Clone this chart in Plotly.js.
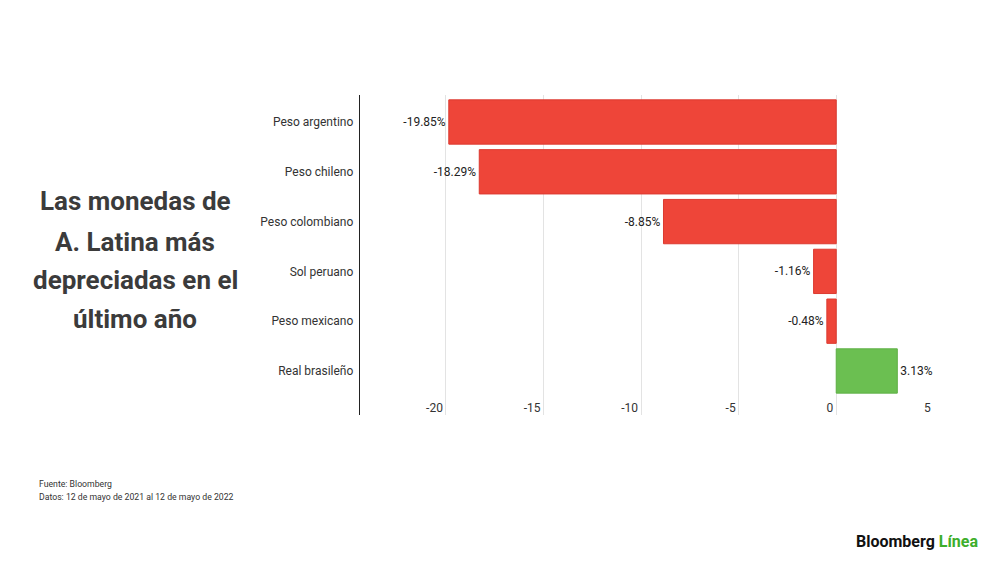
<!DOCTYPE html>
<html>
<head>
<meta charset="utf-8">
<script src="https://cdn.plot.ly/plotly-3.0.1.min.js"></script>
<style>
html,body{margin:0;padding:0;background:#fff;}
#chart{width:1000px;height:562px;}
</style>
</head>
<body>
<div id="chart"></div>
<script>
const currencies = ["Peso argentino", "Peso chileno", "Peso colombiano", "Sol peruano", "Peso mexicano", "Real brasileño"];
const changes = [-19.85, -18.29, -8.85, -1.16, -0.48, 3.13];
const xTicks = [-20, -15, -10, -5, 0, 5];
const titleLines = ["Las monedas de", "A. Latina más", "depreciadas en el", "último año"];
const sourceLines = ["Fuente: Bloomberg", "Datos: 12 de mayo de 2021 al 12 de mayo de 2022"];

const RED = "#EE4539", RED_LINE = "#DC3A30";
const GREEN = "#6BBF51", GREEN_LINE = "#5FB046";

const trace = {
  type: "bar",
  orientation: "h",
  y: currencies,
  x: changes,
  marker: {
    color: changes.map(v => v < 0 ? RED : GREEN),
    line: {color: changes.map(v => v < 0 ? RED_LINE : GREEN_LINE), width: 1}
  },
  texttemplate: "%{x:.2f}%",
  textposition: "outside",
  textfont: {family: "Roboto", size: 12, color: "#222"},
  cliponaxis: false,
  hoverinfo: "skip"
};

// plot area: x 360..934, y 95..415
const L = 360, R = 934, T = 95, B = 415;
const px = x => (x - L) / (R - L);
const py = y => (B - y) / (B - T);

const annotations = [];
const titleY = [201, 242, 280, 319];
titleLines.forEach((t, i) => annotations.push({
  xref: "paper", yref: "paper", x: px(135), y: py(titleY[i]),
  xanchor: "center", yanchor: "middle", showarrow: false,
  text: "<b>" + t + "</b>",
  font: {family: "Roboto", size: 26, color: "#3b3b3b"}
}));
const srcY = [484, 497];
sourceLines.forEach((t, i) => annotations.push({
  xref: "paper", yref: "paper", x: px(37), y: py(srcY[i]),
  xanchor: "left", yanchor: "middle", showarrow: false,
  text: t, font: {family: "Roboto", size: 8.7, color: "#333"}
}));
annotations.push({
  xref: "paper", yref: "paper", x: px(980), y: py(541),
  xanchor: "right", yanchor: "middle", showarrow: false,
  text: "<b>Bloomberg</b> <b><span style='color:#3DAE2B'>Línea</span></b>",
  font: {family: "Roboto", size: 16, color: "#111"}
});

const layout = {
  width: 1000, height: 562,
  margin: {l: L, r: 1000 - R, t: T, b: 562 - B, pad: 0},
  paper_bgcolor: "#fff", plot_bgcolor: "#fff",
  showlegend: false,
  bargap: 0.11,
  font: {family: "Roboto", color: "#333"},
  xaxis: {
    range: [-24.4, 5.01],
    tickvals: xTicks,
    ticktext: xTicks.map(String),
    ticklabelposition: "inside left",
    ticklabelstandoff: -5,
    ticklabelshift: -3,
    tickfont: {family: "Roboto", size: 12, color: "#333"},
    showgrid: true, gridcolor: "#e3e3e3", gridwidth: 1,
    zeroline: false, showline: false, ticks: "",
    fixedrange: true
  },
  yaxis: {
    type: "category",
    categoryorder: "array", categoryarray: currencies,
    range: [5.884, -0.542],
    showline: true, linecolor: "#222", linewidth: 1.3,
    showgrid: false, zeroline: false, ticks: "",
    ticklabelstandoff: 3,
    tickfont: {family: "Roboto", size: 12, color: "#333"},
    fixedrange: true
  },
  annotations: annotations
};

Plotly.newPlot("chart", [trace], layout, {displayModeBar: false, staticPlot: true});
</script>
</body>
</html>
